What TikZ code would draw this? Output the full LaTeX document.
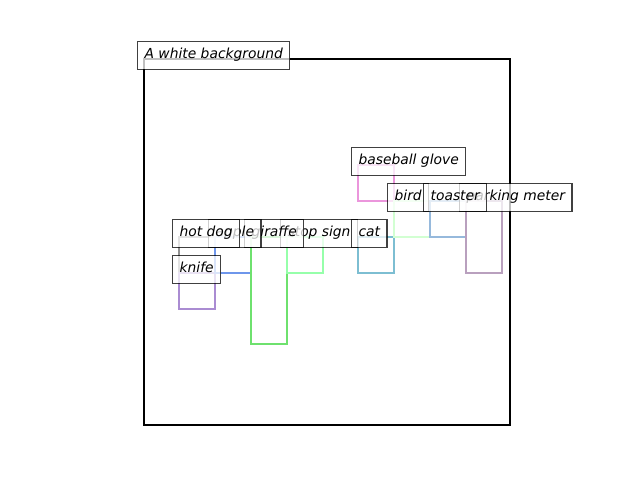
\documentclass[tikz,border=0pt]{standalone}
\usepackage{fontspec}
\setmainfont{DejaVu Sans}

\definecolor{cHotdog}{RGB}{145,145,145}
\definecolor{cKnife}{RGB}{170,140,210}
\definecolor{cApple}{RGB}{110,150,235}
\definecolor{cGiraffe}{RGB}{110,225,110}
\definecolor{cStop}{RGB}{150,255,170}
\definecolor{cCat}{RGB}{125,190,210}
\definecolor{cGlove}{RGB}{235,150,220}
\definecolor{cBird}{RGB}{210,255,210}
\definecolor{cToaster}{RGB}{150,185,220}
\definecolor{cMeter}{RGB}{185,160,190}

\tikzset{
  bbox/.style={line width=2pt},
  tag/.style={draw=black, line width=0.9pt, fill=white, opacity=0.75, text opacity=1,
    inner xsep=5pt, inner ysep=5pt, text height=7.6pt, text depth=2.4pt,
    anchor=base west, xshift=-5pt, font=\fontsize{10}{12}\selectfont\itshape}
}

\begin{document}
\begin{tikzpicture}[x=0.254mm, y=-0.254mm]
    \useasboundingbox (0,0) rectangle (640,480);

    % Draw the frame of the image
    \draw[line width=1.8pt] (144,59) rectangle (510,425);

    % Draw the boxes of the objects
    \draw[bbox, cHotdog] (179,237) rectangle (215,273);   % hot dog
    \draw[bbox, cKnife] (179,273) rectangle (215,309);    % knife
    \draw[bbox, cApple] (215,237) rectangle (251,273);    % apple
    \draw[bbox, cGiraffe] (251,237) rectangle (287,344);  % giraffe
    \draw[bbox, cStop] (287,237) rectangle (323,273);     % stop sign
    \draw[bbox, cCat] (358,237) rectangle (394,273);      % cat
    \draw[bbox, cGlove] (358,165) rectangle (394,201);    % baseball glove
    \draw[bbox, cBird] (394,201) rectangle (430,237);     % bird
    \draw[bbox, cToaster] (430,201) rectangle (466,237);  % toaster
    \draw[bbox, cMeter] (466,201) rectangle (502,273);    % parking meter

    % Label the image
    \node[tag] (title) at (144,59) {A white background};

    % Label the boxes
    \node[tag] (stopsign) at (287,237) {stop sign};
    \node[tag] (giraffe) at (251,237) {giraffe};
    \node[tag] (apple) at (215,237) {apple};
    \node[tag] (hotdog) at (179,237) {hot dog};
    \node[tag] (knife) at (179,273) {knife};
    \node[tag] (cat) at (358,237) {cat};
    \node[tag] (glove) at (358,165) {baseball glove};
    \node[tag] (bird) at (394,201) {bird};
    \node[tag] (meter) at (466,201) {parking meter};
    \node[tag] (toaster) at (430,201) {toaster};
\end{tikzpicture}
\end{document}
